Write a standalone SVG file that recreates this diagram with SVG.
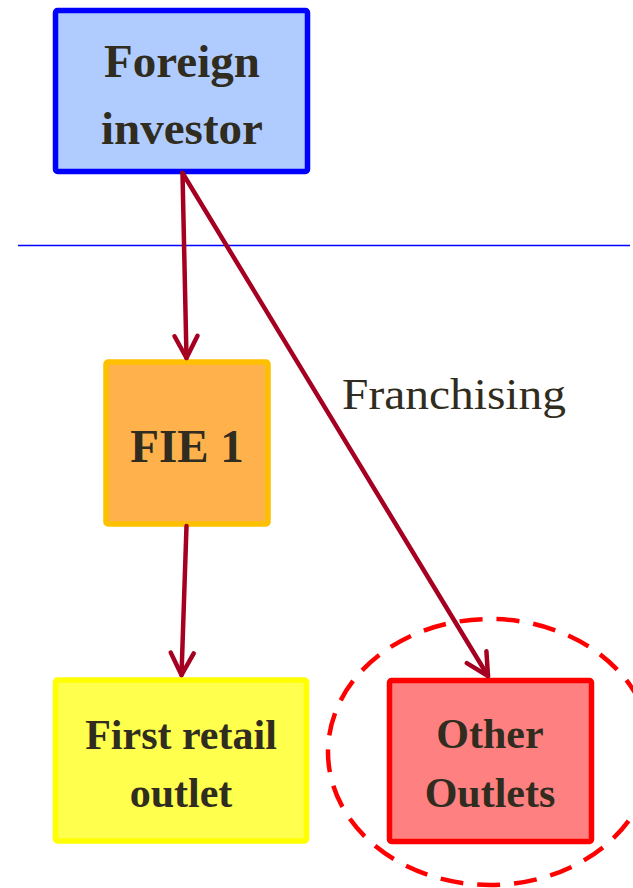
<svg xmlns="http://www.w3.org/2000/svg" width="633" height="888" viewBox="0 0 633 888">
<style>
.lbl{font-family:"Liberation Serif","Times New Roman",serif;font-weight:bold;fill:#302c20;text-anchor:middle}
.conn{stroke:#a50021;stroke-width:4.5;fill:none;stroke-linecap:round}
.box{stroke-width:5.5;stroke-linejoin:round}
</style>
<defs>
<marker id="arr" markerUnits="userSpaceOnUse" viewBox="-30 -16 36 32" refX="0" refY="0" markerWidth="36" markerHeight="32" orient="auto" overflow="visible">
<path d="M-22,-11.5 L0,0 L-22,11.5" fill="none" stroke="#a50021" stroke-width="4.5" stroke-linecap="round" stroke-linejoin="round"/>
</marker>
</defs>
<rect width="633" height="888" fill="#ffffff"/>
<line x1="18" y1="245.5" x2="630" y2="245.5" stroke="#0000ff" stroke-width="1.5"/>
<g id="foreign-investor">
<rect class="box" x="55.5" y="10.5" width="252" height="161" rx="2" fill="#b0ccff" stroke="#0000ff"/>
<text class="lbl" x="182" y="77" font-size="47">Foreign</text>
<text class="lbl" x="182" y="144" font-size="47">investor</text>
</g>
<g id="fie1">
<rect class="box" x="106" y="362" width="162" height="162" rx="2" fill="#ffb24c" stroke="#ffc000"/>
<text class="lbl" x="187" y="462" font-size="47">FIE 1</text>
</g>
<g id="first-retail-outlet">
<rect class="box" x="55.5" y="680" width="251" height="161" rx="2" fill="#ffff4d" stroke="#ffff00"/>
<text class="lbl" x="181" y="749" font-size="42">First retail</text>
<text class="lbl" x="181" y="807" font-size="42">outlet</text>
</g>
<g id="other-outlets">
<ellipse cx="490" cy="752" rx="162" ry="133" fill="none" stroke="#ff0000" stroke-width="4.5" stroke-dasharray="23 14"/>
<rect class="box" x="389.5" y="680.5" width="202" height="161" rx="2" fill="#ff8080" stroke="#ff0000"/>
<text class="lbl" x="490" y="748" font-size="42">Other</text>
<text class="lbl" x="490" y="807" font-size="42">Outlets</text>
</g>
<g id="connectors">
<line class="conn" x1="182.5" y1="173" x2="186.5" y2="358" marker-end="url(#arr)"/>
<line class="conn" x1="182.5" y1="173" x2="488" y2="676" marker-end="url(#arr)"/>
<line class="conn" x1="186.5" y1="526" x2="181.5" y2="675" marker-end="url(#arr)"/>
<text x="342" y="409" font-family="Liberation Serif,'Times New Roman',serif" font-size="44" fill="#302c20" textLength="224" lengthAdjust="spacingAndGlyphs">Franchising</text>
</g>
</svg>
